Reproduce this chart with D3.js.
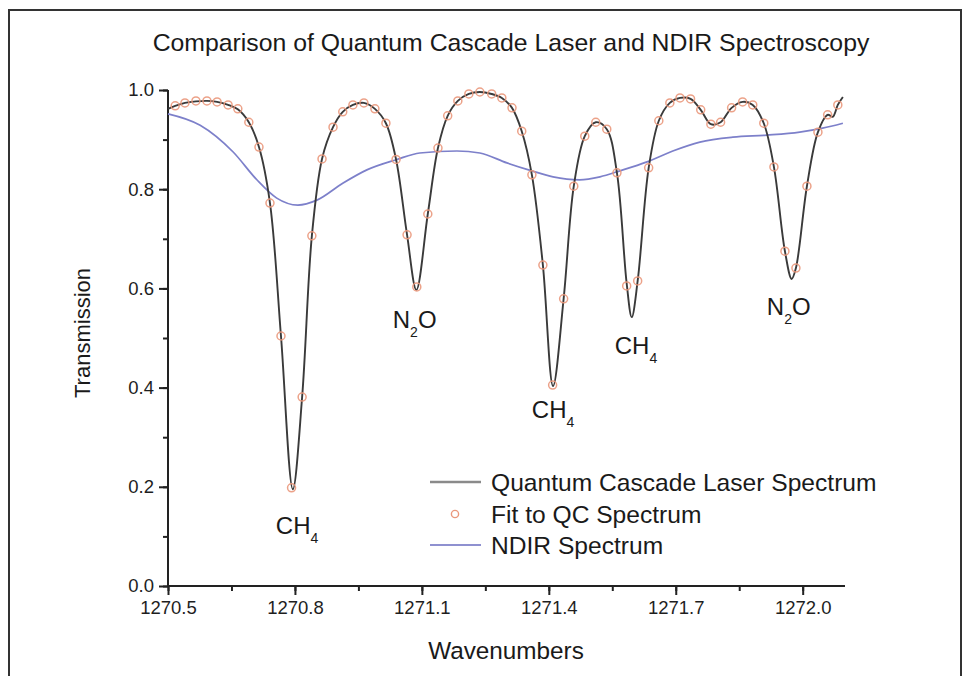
<!DOCTYPE html>
<html>
<head>
<meta charset="utf-8">
<script src="https://cdn.jsdelivr.net/npm/d3@7"></script>
<style>
  body { margin: 0; background: #fff; }
  svg { display: block; font-family: "Liberation Sans", Arial, sans-serif; }
</style>
</head>
<body>
<svg id="chart" width="963" height="676"></svg>
<script>
// ---- data ----
const title = "Comparison of Quantum Cascade Laser and NDIR Spectroscopy";
const xLabel = "Wavenumbers";
const yLabel = "Transmission";
const xTicks = [1270.5, 1270.8, 1271.1, 1271.4, 1271.7, 1272.0];
const yTicks = [0.0, 0.2, 0.4, 0.6, 0.8, 1.0];
const seriesNames = ["Quantum Cascade Laser Spectrum", "Fit to QC Spectrum", "NDIR Spectrum"];

// Quantum cascade laser spectrum (black line)
const qclX = [1270.500,1270.517,1270.540,1270.566,1270.592,1270.616,1270.642,1270.665,1270.691,1270.715,
  1270.741,1270.767,1270.795,1270.817,1270.840,1270.864,1270.890,1270.913,1270.937,1270.963,
  1270.989,1271.015,1271.039,1271.065,1271.087,1271.114,1271.138,1271.161,1271.185,1271.211,
  1271.237,1271.265,1271.289,1271.313,1271.336,1271.360,1271.386,1271.410,1271.435,1271.459,
  1271.485,1271.511,1271.537,1271.561,1271.584,1271.596,1271.610,1271.636,1271.660,1271.686,
  1271.710,1271.735,1271.759,1271.783,1271.806,1271.832,1271.858,1271.882,1271.908,1271.932,
  1271.958,1271.974,1271.984,1272.010,1272.036,1272.059,1272.071,1272.083,1272.095];
const qclY = [0.962,0.968,0.974,0.977,0.978,0.976,0.970,0.961,0.935,0.885,
  0.772,0.504,0.195,0.381,0.706,0.861,0.925,0.956,0.970,0.974,
  0.962,0.933,0.860,0.708,0.597,0.750,0.883,0.948,0.978,0.992,
  0.996,0.992,0.984,0.964,0.917,0.829,0.647,0.403,0.579,0.806,
  0.907,0.935,0.921,0.833,0.610,0.542,0.615,0.843,0.938,0.974,
  0.984,0.982,0.960,0.931,0.935,0.964,0.976,0.970,0.933,0.845,
  0.675,0.619,0.641,0.806,0.915,0.950,0.946,0.970,0.986];

// Fit to QC spectrum (open circles)
const fitX = [1270.517,1270.540,1270.566,1270.592,1270.616,1270.642,1270.665,1270.691,1270.715,1270.741,
  1270.767,1270.792,1270.817,1270.840,1270.864,1270.890,1270.913,1270.937,1270.963,1270.989,
  1271.015,1271.039,1271.065,1271.088,1271.114,1271.138,1271.161,1271.185,1271.211,1271.237,
  1271.265,1271.289,1271.313,1271.336,1271.360,1271.386,1271.409,1271.435,1271.459,1271.485,
  1271.511,1271.537,1271.561,1271.584,1271.610,1271.636,1271.660,1271.686,1271.710,1271.735,
  1271.759,1271.783,1271.806,1271.832,1271.858,1271.882,1271.908,1271.932,1271.958,1271.984,
  1272.010,1272.036,1272.059,1272.083];
const fitY = [0.968,0.974,0.978,0.978,0.976,0.970,0.962,0.935,0.885,0.772,
  0.504,0.198,0.381,0.706,0.861,0.925,0.956,0.970,0.974,0.962,
  0.933,0.860,0.708,0.603,0.750,0.883,0.948,0.978,0.992,0.996,
  0.992,0.984,0.964,0.917,0.829,0.647,0.405,0.579,0.806,0.907,
  0.935,0.921,0.833,0.605,0.615,0.843,0.938,0.974,0.984,0.982,
  0.960,0.931,0.935,0.964,0.976,0.970,0.933,0.845,0.675,0.641,
  0.806,0.915,0.950,0.970];

// NDIR spectrum (blue line)
const ndirX = [1270.500,1270.576,1270.654,1270.710,1270.757,1270.807,1270.852,1270.913,1270.970,1271.041,
  1271.095,1271.183,1271.237,1271.301,1271.360,1271.410,1271.473,1271.521,1271.568,1271.632,
  1271.693,1271.757,1271.835,1271.915,1271.993,1272.047,1272.095];
const ndirY = [0.952,0.929,0.875,0.819,0.782,0.768,0.778,0.812,0.839,0.860,
  0.873,0.877,0.873,0.853,0.837,0.825,0.819,0.825,0.837,0.855,
  0.877,0.895,0.905,0.909,0.915,0.923,0.933];

// peak annotations: species, subscript digit, anchor wavenumber, anchor transmission
const peakMain = ["CH", "N", "CH", "CH", "N"];
const peakSub  = ["4", "2", "4", "4", "2"];
const peakTail = ["", "O", "", "", "O"];
const peakX = [1270.805, 1271.083, 1271.410, 1271.606, 1271.967];
const peakY = [0.105, 0.520, 0.339, 0.468, 0.546];

// ---- drawing ----
const svg = d3.select("#chart");
const x = d3.scaleLinear().domain([1270.5, 1272.1]).range([168, 845]);
const y = d3.scaleLinear().domain([0, 1.0]).range([586, 90]);

// outer frame
svg.append("path")
  .attr("d", "M9,690 L9,10 L961,10 L961,690")
  .attr("fill", "none").attr("stroke", "#333").attr("stroke-width", 2);

// title
svg.append("text").attr("x", 511).attr("y", 51)
  .attr("text-anchor", "middle").attr("font-size", 24.8).attr("fill", "#1a1a1a")
  .text(title);

// axes
const axisColor = "#222";
const xMinor = d3.range(0, 11).map(i => 1270.5 + i * 0.15).filter(v => v <= 1272.1 + 1e-9);
const yMinor = d3.range(0, 11).map(i => i * 0.1);

const gx = svg.append("g").attr("transform", "translate(0,586)");
gx.call(d3.axisBottom(x).tickValues(xMinor).tickSize(5).tickFormat(""));
gx.call(g => g.select(".domain").remove());
const gxMaj = svg.append("g").attr("transform", "translate(0,586)")
  .call(d3.axisBottom(x).tickValues(xTicks).tickSize(9).tickPadding(6).tickFormat(d3.format(".1f")));
gxMaj.select(".domain").attr("d", `M${x(1270.5)},0H${x(1272.1)}`);

const gy = svg.append("g").attr("transform", "translate(168,0)");
gy.call(d3.axisLeft(y).tickValues(yMinor).tickSize(5).tickFormat(""));
gy.call(g => g.select(".domain").remove());
const gyMaj = svg.append("g").attr("transform", "translate(168,0)")
  .call(d3.axisLeft(y).tickValues(yTicks).tickSize(9).tickPadding(5).tickFormat(d3.format(".1f")));
gyMaj.select(".domain").attr("d", `M0,${y(0)}V${y(1.0)}`);

svg.selectAll(".tick line, .domain").attr("stroke", axisColor).attr("stroke-width", 2);
svg.selectAll(".tick text").attr("font-size", 18.5).attr("fill", "#1e1e1e")
  .attr("font-family", "'Liberation Sans', Arial, sans-serif");

// axis titles
svg.append("text").attr("x", 506).attr("y", 659).attr("text-anchor", "middle")
  .attr("font-size", 24.3).attr("fill", "#1a1a1a").text(xLabel);
svg.append("text").attr("transform", "translate(90,333) rotate(-90)").attr("text-anchor", "middle")
  .attr("font-size", 22).attr("fill", "#1a1a1a").text(yLabel);

// series
const qcl = qclX.map((v, i) => [v, qclY[i]]);
const fit = fitX.map((v, i) => [v, fitY[i]]);
const ndir = ndirX.map((v, i) => [v, ndirY[i]]);

const lineQ = d3.line().x(d => x(d[0])).y(d => y(d[1])).curve(d3.curveCatmullRom.alpha(0.5));
const lineN = d3.line().x(d => x(d[0])).y(d => y(d[1])).curve(d3.curveMonotoneX);

svg.append("path").datum(ndir).attr("d", lineN)
  .attr("fill", "none").attr("stroke", "#7d80ca").attr("stroke-width", 1.7);

svg.append("path").datum(qcl).attr("d", lineQ)
  .attr("fill", "none").attr("stroke", "#3a3a3a").attr("stroke-width", 1.9);

svg.append("g").selectAll("circle").data(fit).join("circle")
  .attr("cx", d => x(d[0])).attr("cy", d => y(d[1])).attr("r", 4)
  .attr("fill", "none").attr("stroke", "#ea987c").attr("stroke-width", 1.5).attr("opacity", 0.9);

// peak labels
peakMain.forEach((m, i) => {
  const t = svg.append("text").attr("x", x(peakX[i])).attr("y", y(peakY[i]))
    .attr("text-anchor", "middle").attr("font-size", 24).attr("fill", "#1a1a1a");
  t.append("tspan").text(m);
  t.append("tspan").attr("font-size", 14).attr("dy", 9).text(peakSub[i]);
  if (peakTail[i]) t.append("tspan").attr("dy", -9).text(peakTail[i]);
});

// legend
const lg = svg.append("g");
const rowsY = [482, 514, 545];
lg.append("line").attr("x1", 430).attr("x2", 481).attr("y1", rowsY[0]).attr("y2", rowsY[0])
  .attr("stroke", "#8a8a8a").attr("stroke-width", 2.5);
lg.append("circle").attr("cx", 455).attr("cy", rowsY[1]).attr("r", 3.6)
  .attr("fill", "none").attr("stroke", "#ea987c").attr("stroke-width", 1.4);
lg.append("line").attr("x1", 430).attr("x2", 481).attr("y1", rowsY[2]).attr("y2", rowsY[2])
  .attr("stroke", "#8f91d0").attr("stroke-width", 2);
seriesNames.forEach((s, i) => {
  lg.append("text").attr("x", 491).attr("y", rowsY[i] + 8.5).attr("font-size", 24.6)
    .attr("fill", "#1a1a1a").text(s);
});
</script>
</body>
</html>
